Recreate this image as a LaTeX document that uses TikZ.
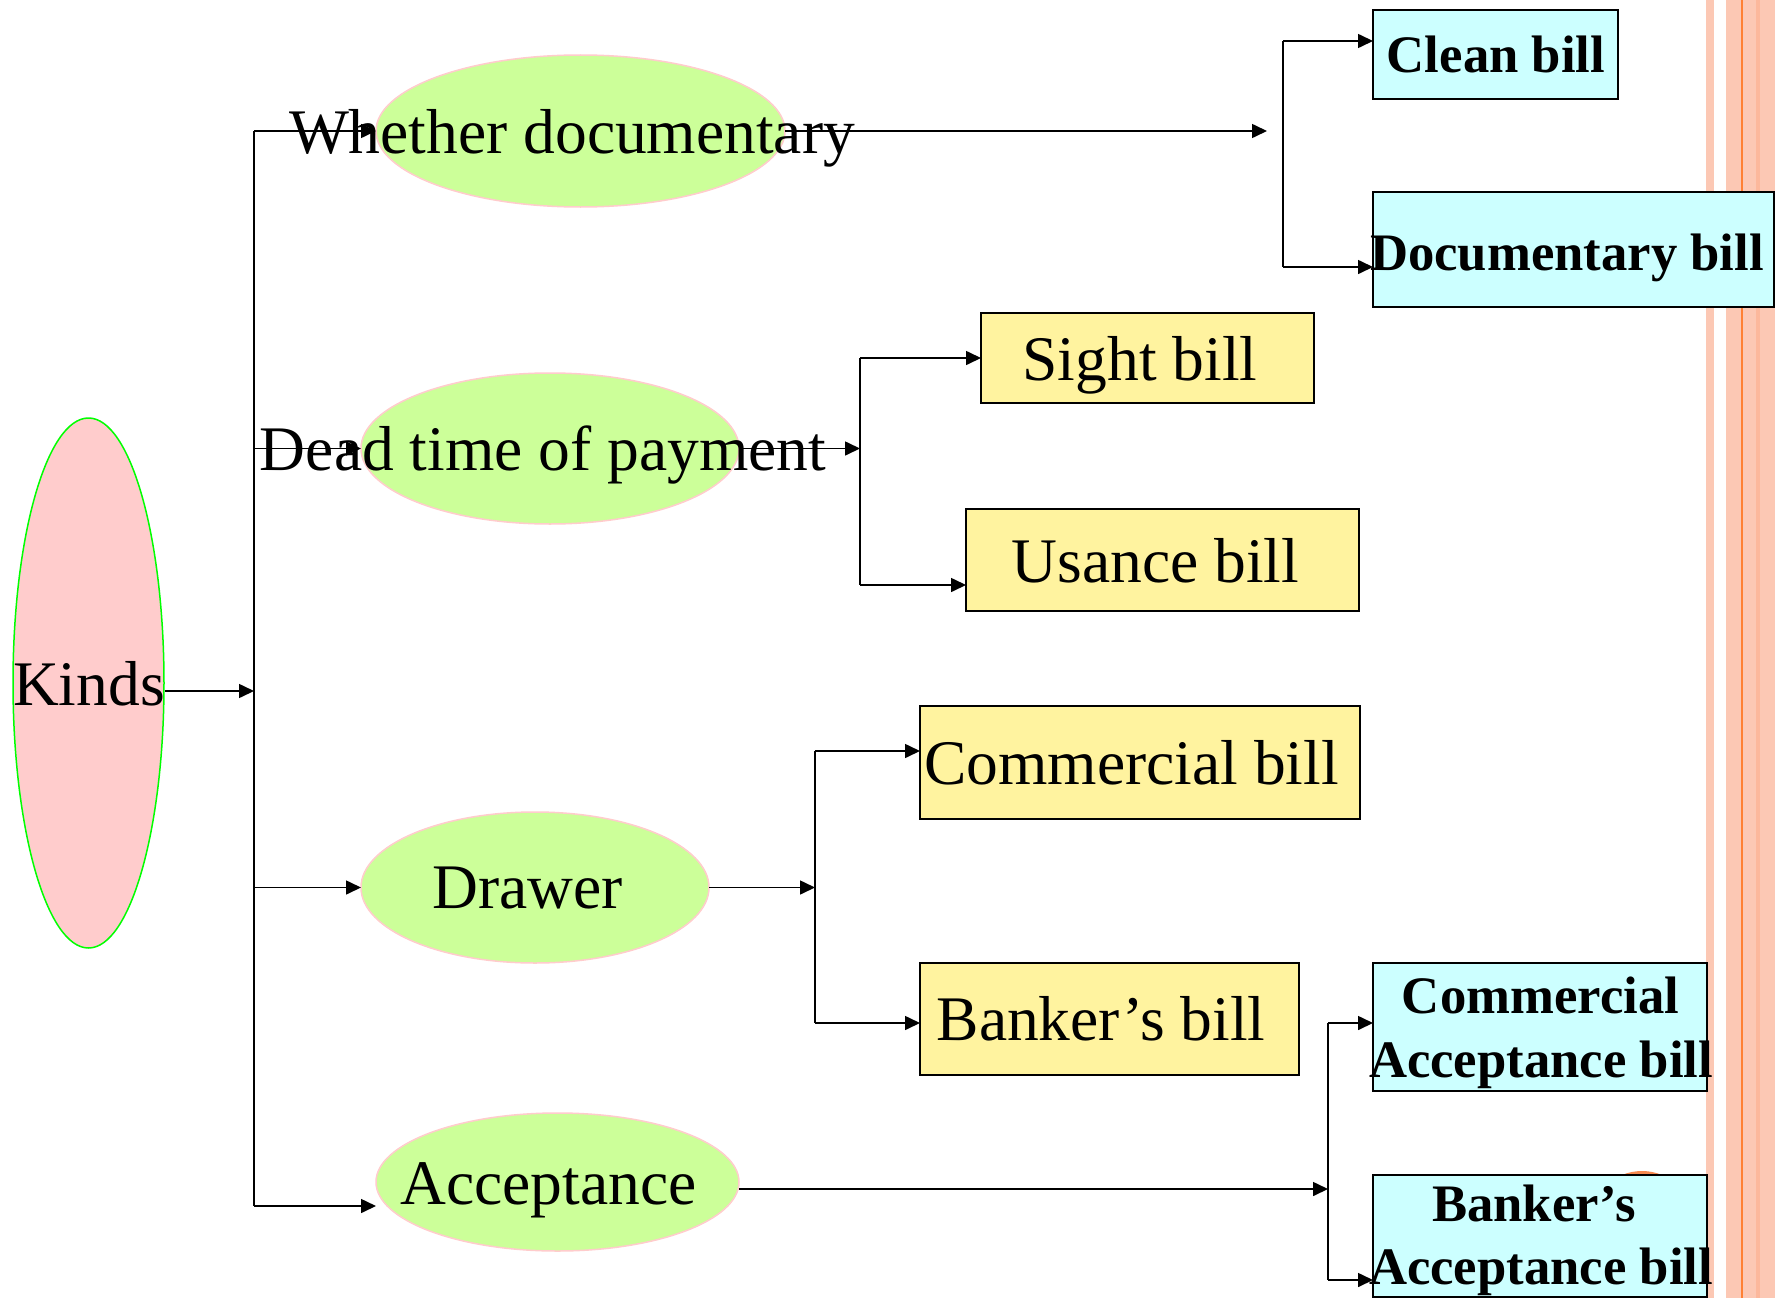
\documentclass[tikz,border=0pt]{standalone}
\usepackage{fontspec}
\setmainfont{Liberation Serif}
\usetikzlibrary{arrows.meta,shapes.geometric}
\definecolor{catgreen}{HTML}{CCFF99}
\definecolor{catpink}{HTML}{FFCCCC}
\definecolor{kindsgreen}{HTML}{00FF00}
\definecolor{billyellow}{HTML}{FFF39F}
\definecolor{billcyan}{HTML}{CCFFFF}
\definecolor{stripe}{HTML}{FCC8B4}
\definecolor{stripedark}{HTML}{FCB89C}
\definecolor{stripeline}{HTML}{FF8033}
\definecolor{dotorange}{HTML}{F5894F}

\begin{document}
\begin{tikzpicture}[x=1pt, y=-1pt, >={Triangle[length=15pt,width=14pt]},
	conn/.style={line width=1.6pt},
	arr/.style={conn, ->},
	catnode/.style={ellipse, draw=catpink, line width=1.5pt, fill=catgreen, inner sep=0pt, outer sep=0pt},
	boxnode/.style={rectangle, draw=black, line width=1.6pt, inner sep=0pt, outer sep=0pt},
	plaintxt/.style={anchor=base, inner sep=0pt, font=\fontsize{63.5}{70}\selectfont},
	boldtxt/.style={anchor=base, inner sep=0pt, font=\fontsize{52.7}{64}\selectfont\bfseries}]
	\useasboundingbox[fill=white] (0,0) rectangle (1775,1298);
	\fill[stripe] (1706,0) rectangle (1714,1298);
	\fill[stripe] (1726,0) rectangle (1775,1298);
	\fill[stripedark] (1756,0) rectangle (1760,1298);
	\draw[stripeline, line width=1.5pt] (1742,0) -- (1742,1298);
	\fill[dotorange] (1642,1223) circle (52);

	\node[ellipse, draw=kindsgreen, line width=1.5pt, fill=catpink, inner sep=0pt, minimum width=151pt, minimum height=530pt] (kinds) at (88.5,683) {};
	\node[catnode, minimum width=409pt, minimum height=152pt] (whether) at (580.5,131) {};
	\node[catnode, minimum width=378pt, minimum height=151pt] (deadtime) at (550,448.5) {};
	\node[catnode, minimum width=348pt, minimum height=151pt] (drawer) at (535,887.5) {};
	\node[catnode, minimum width=363pt, minimum height=138pt] (accept) at (557.5,1182) {};

	\node[boxnode, fill=billcyan, minimum width=245pt, minimum height=89pt] (clean) at (1495.5,54.5) {};
	\node[boxnode, fill=billcyan, minimum width=401pt, minimum height=115pt] (docu) at (1573.5,249.5) {};
	\node[boxnode, fill=billyellow, minimum width=333pt, minimum height=90pt] (sight) at (1147.5,358) {};
	\node[boxnode, fill=billyellow, minimum width=393pt, minimum height=102pt] (usance) at (1162.5,560) {};
	\node[boxnode, fill=billyellow, minimum width=440pt, minimum height=113pt] (commer) at (1140,762.5) {};
	\node[boxnode, fill=billyellow, minimum width=379pt, minimum height=112pt] (banker) at (1109.5,1019) {};
	\node[boxnode, fill=billcyan, minimum width=334pt, minimum height=128pt] (cacc) at (1540,1027) {};
	\node[boxnode, fill=billcyan, minimum width=334pt, minimum height=122pt] (bacc) at (1540,1236) {};

	\coordinate (kindsin) at (254,691);
	\coordinate (spinetop) at (254,131);
	\coordinate (spinebot) at (254,1206);
	\coordinate (wend) at (1267,131);
	\coordinate (fonetop) at (1283,41);
	\coordinate (fonebot) at (1283,267);
	\coordinate (ftwotop) at (860,358);
	\coordinate (ftwobot) at (860,585);
	\coordinate (fthreetop) at (815,751);
	\coordinate (fthreebot) at (815,1023);
	\coordinate (ffourmid) at (1328,1189);
	\coordinate (ffourtop) at (1328,1023);
	\coordinate (ffourbot) at (1328,1280);

	\draw[arr] (kindsin -| kinds.east) -- (kindsin);
	\draw[conn] (spinetop) -- (spinebot);
	\draw[arr] (spinetop) -- (whether.west);
	\draw[arr] (whether.east) -- (wend);
	\draw[conn] (fonetop) -- (fonebot);
	\draw[arr] (fonetop) -- (fonetop -| clean.west);
	\draw[arr] (fonebot) -- (fonebot -| docu.west);
	\draw[arr] (spinetop |- deadtime.west) -- (deadtime.west);
	\draw[arr] (deadtime.east) -- (deadtime.east -| ftwotop);
	\draw[conn] (ftwotop) -- (ftwobot);
	\draw[arr] (ftwotop) -- (sight.west);
	\draw[arr] (ftwobot) -- (ftwobot -| usance.west);
	\draw[arr] (spinetop |- drawer.west) -- (drawer.west);
	\draw[arr] (drawer.east) -- (drawer.east -| fthreetop);
	\draw[conn] (fthreetop) -- (fthreebot);
	\draw[arr] (fthreetop) -- (fthreetop -| commer.west);
	\draw[arr] (fthreebot) -- (fthreebot -| banker.west);
	\draw[arr] (spinebot) -- (spinebot -| accept.west);
	\draw[arr] (ffourmid -| accept.east) -- (ffourmid);
	\draw[conn] (ffourtop) -- (ffourbot);
	\draw[arr] (ffourtop) -- (ffourtop -| cacc.west);
	\draw[arr] (ffourbot) -- (ffourbot -| bacc.west);

	\node[plaintxt] (kindstxt) at (89,705) {Kinds};
	\node[plaintxt] (whethertxt) at (572,153) {Whether documentary};
	\node[plaintxt] (deadtimetxt) at (543,470) {Dead time of payment};
	\node[plaintxt] (drawertxt) at (527.5,908) {Drawer};
	\node[plaintxt] (accepttxt) at (548.5,1204) {Acceptance};
	\node[plaintxt] (sighttxt) at (1140,380) {Sight bill};
	\node[plaintxt] (usancetxt) at (1155.5,582) {Usance bill};
	\node[plaintxt] (commertxt) at (1131.5,784) {Commercial bill};
	\node[plaintxt] (bankertxt) at (1101,1040) {Banker’s bill};
	\node[boldtxt] (cleantxt) at (1496,73) {Clean bill};
	\node[boldtxt] (docutxt) at (1567,270) {Documentary bill};
	\node[boldtxt] (cacctxtone) at (1540.5,1013) {Commercial};
	\node[boldtxt] (cacctxttwo) at (1541,1077) {Acceptance bill};
	\node[boldtxt] (bacctxtone) at (1534,1221) {Banker’s};
	\node[boldtxt] (bacctxttwo) at (1541,1284) {Acceptance bill};
\end{tikzpicture}
\end{document}
